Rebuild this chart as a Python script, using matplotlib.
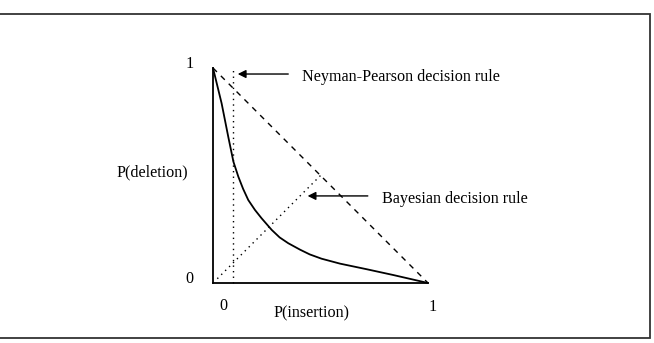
import matplotlib
matplotlib.use("Agg")
import matplotlib.pyplot as plt
import matplotlib.patches as patches

plt.rcParams['font.family'] = ['Liberation Serif', 'DejaVu Serif']

# ROC-like tradeoff curve
curve_x = [0.0, 0.020, 0.040, 0.071, 0.095, 0.118, 0.140, 0.164, 0.195, 0.226,
           0.273, 0.310, 0.350, 0.405, 0.450, 0.505, 0.591, 0.715, 0.839, 1.0]
curve_y = [1.0, 0.918, 0.836, 0.680, 0.564, 0.494, 0.438, 0.386, 0.340, 0.301,
           0.247, 0.212, 0.185, 0.155, 0.133, 0.113, 0.090, 0.064, 0.037, 0.0]

chance_x = [0.0, 1.0]
chance_y = [1.0, 0.0]

bayes_x = [0.02, 0.5]
bayes_y = [0.02, 0.5]

np_x = [0.093, 0.093]
np_y = [0.0, 1.0]

fs = 11.6
fig = plt.figure(figsize=(6.54, 3.43), dpi=100)

# outer frame
fig.patches.append(patches.Rectangle((-0.01, 0.0146), 1.004, 0.944, transform=fig.transFigure,
                                     fill=False, edgecolor='#333333', linewidth=1.3))

ax = fig.add_axes([213/654, (343-283)/343, 215/654, 215/343])
ax.set_xlim(0, 1)
ax.set_ylim(0, 1)
for s in ['top', 'right']:
    ax.spines[s].set_visible(False)
for s in ['left', 'bottom']:
    ax.spines[s].set_linewidth(1.3)
ax.set_xticks([])
ax.set_yticks([])

ax.plot(curve_x, curve_y, color='black', linewidth=1.3, clip_on=False,
        solid_joinstyle='round', solid_capstyle='round')
ax.plot(chance_x, chance_y, color='black', linewidth=1.0, linestyle=(0, (4, 4)), clip_on=False)
ax.plot(bayes_x, bayes_y, color='black', linewidth=1.0, linestyle=(0, (1, 3)), clip_on=False)
ax.plot(np_x, np_y, color='black', linewidth=1.0, linestyle=(0, (1, 3)), clip_on=False)

# axis labels
ax.text(-0.11, 1.02, '1', fontsize=fs, ha='center', va='center')
ax.text(-0.11, 0.02, '0', fontsize=fs, ha='center', va='center')
ax.text(-0.115, 0.516, 'P(deletion)', fontsize=fs, ha='right', va='center')
ax.text(0.05, -0.105, '0', fontsize=fs, ha='center', va='center')
ax.text(1.02, -0.11, '1', fontsize=fs, ha='center', va='center')
ax.text(0.46, -0.14, 'P(insertion)', fontsize=fs, ha='center', va='center')

# annotations
ax.annotate('', xy=(0.115, 0.972), xytext=(0.35, 0.972),
            arrowprops=dict(arrowstyle='-|>', color='black', lw=1.0,
                            mutation_scale=12, shrinkA=0, shrinkB=0),
            annotation_clip=False)
ax.text(0.414, 0.958, 'Neyman-Pearson decision rule', fontsize=fs, ha='left', va='center')

ax.annotate('', xy=(0.44, 0.405), xytext=(0.72, 0.405),
            arrowprops=dict(arrowstyle='-|>', color='black', lw=1.0,
                            mutation_scale=12, shrinkA=0, shrinkB=0),
            annotation_clip=False)
ax.text(0.786, 0.39, 'Bayesian decision rule', fontsize=fs, ha='left', va='center')

fig.savefig('out.png', dpi=100)
